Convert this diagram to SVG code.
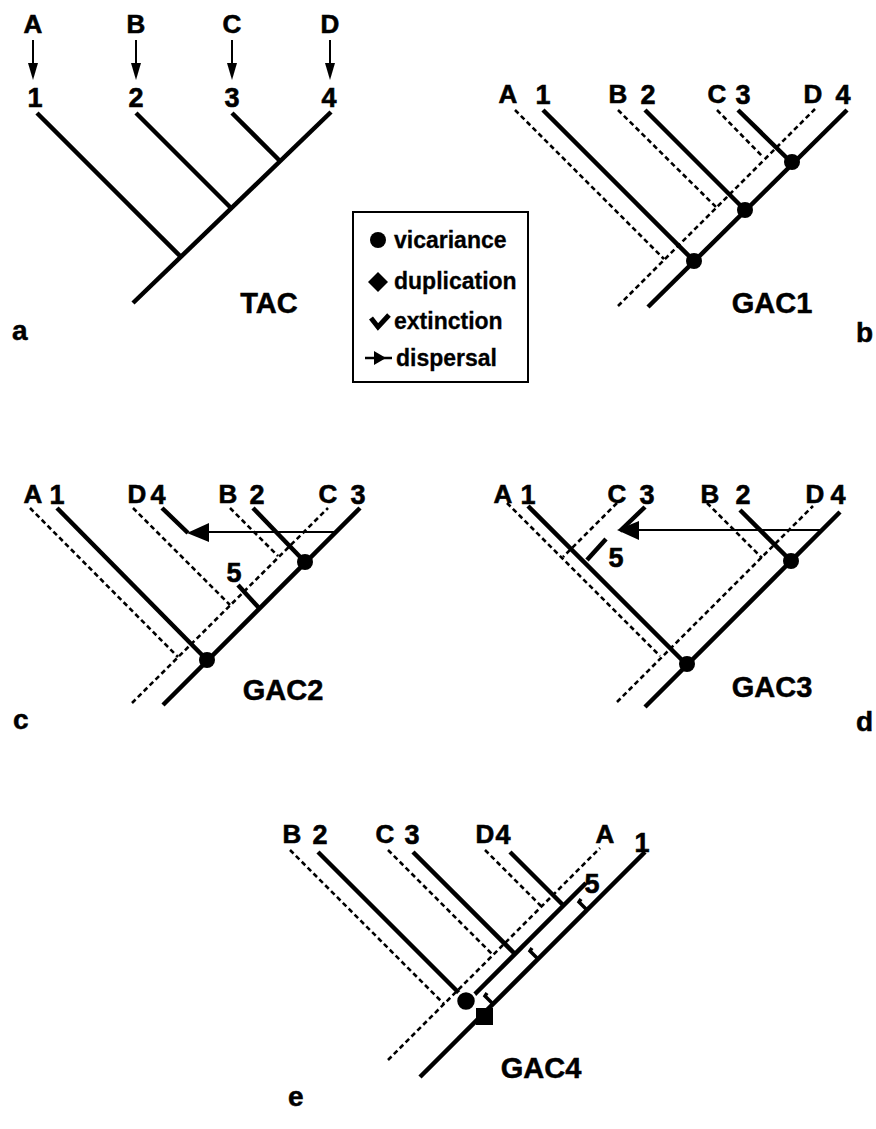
<svg xmlns="http://www.w3.org/2000/svg" width="876" height="1129" viewBox="0 0 876 1129">
<defs>
<style>
.s{stroke:#000;stroke-width:4.5;fill:none;stroke-linecap:butt}
.d{stroke:#000;stroke-width:2.6;fill:none;stroke-dasharray:5 3.3}
.t{stroke:#000;stroke-width:2;fill:none}
.l{font-family:"Liberation Sans",Arial,sans-serif;font-weight:bold;font-size:26px;fill:#000;stroke:#000;stroke-width:0.6;text-anchor:middle}
.n{font-family:"Liberation Sans",Arial,sans-serif;font-weight:bold;font-size:27px;fill:#000;stroke:#000;stroke-width:0.6;text-anchor:middle}
.g{font-family:"Liberation Sans",Arial,sans-serif;font-weight:bold;font-size:29px;fill:#000;stroke:#000;stroke-width:0.5;text-anchor:middle}
.p{font-family:"Liberation Sans",Arial,sans-serif;font-weight:bold;font-size:28px;fill:#000;stroke:#000;stroke-width:0.5}
.k{font-family:"Liberation Sans",Arial,sans-serif;font-weight:bold;font-size:23px;fill:#000;stroke:#000;stroke-width:0.3}
.v{fill:#000}
</style>
</defs>
<rect width="876" height="1129" fill="#fff"/>

<!-- Panel a -->
<g id="panel-a">
<text class="l" x="33" y="33">A</text>
<text class="l" x="136" y="33">B</text>
<text class="l" x="232" y="33">C</text>
<text class="l" x="330" y="33">D</text>
<g id="a-arrows">
<line class="t" x1="33" y1="40" x2="33" y2="66"/><polygon class="v" points="28,63 38,63 33,80"/>
<line class="t" x1="136" y1="40" x2="136" y2="66"/><polygon class="v" points="131,63 141,63 136,80"/>
<line class="t" x1="232" y1="40" x2="232" y2="66"/><polygon class="v" points="227,63 237,63 232,80"/>
<line class="t" x1="330" y1="40" x2="330" y2="66"/><polygon class="v" points="325,63 335,63 330,80"/>
</g>
<text class="n" x="35" y="107">1</text>
<text class="n" x="136" y="107">2</text>
<text class="n" x="232" y="107">3</text>
<text class="n" x="329" y="107">4</text>
<line class="s" x1="133" y1="303" x2="331" y2="112"/>
<line class="s" x1="37" y1="113" x2="182" y2="258"/>
<line class="s" x1="136" y1="113" x2="232" y2="209"/>
<line class="s" x1="232" y1="113" x2="280" y2="161"/>
<text class="g" x="269" y="313">TAC</text>
<text class="p" x="12" y="340">a</text>
</g>

<!-- Legend -->
<g id="legend">
<rect x="353" y="212" width="175" height="170" fill="none" stroke="#000" stroke-width="2"/>
<circle cx="378" cy="240" r="8"/>
<text class="k" x="394" y="248">vicariance</text>
<polygon class="v" points="378,272 388,282 378,292 368,282"/>
<text class="k" x="394" y="289">duplication</text>
<polyline points="371,318 378,327 389,315" fill="none" stroke="#000" stroke-width="5"/>
<text class="k" x="394" y="329">extinction</text>
<line x1="365" y1="358" x2="392" y2="358" stroke="#000" stroke-width="2.5"/>
<polygon class="v" points="374,351 386,358 374,365"/>
<text class="k" x="396" y="366">dispersal</text>
</g>

<!-- Panel b -->
<g id="panel-b">
<text class="l" x="508" y="103">A</text><text class="n" x="543" y="104">1</text>
<text class="l" x="618" y="103">B</text><text class="n" x="648" y="104">2</text>
<text class="l" x="717" y="103">C</text><text class="n" x="743" y="104">3</text>
<text class="l" x="813" y="103">D</text><text class="n" x="843" y="104">4</text>
<line class="d" x1="618" y1="306" x2="815" y2="109"/>
<line class="d" x1="515" y1="110" x2="664" y2="259"/>
<line class="d" x1="618" y1="110" x2="717" y2="208"/>
<line class="d" x1="717" y1="110" x2="763" y2="157"/>
<line class="s" x1="648" y1="307" x2="847" y2="110"/>
<line class="s" x1="543" y1="110" x2="694" y2="261"/>
<line class="s" x1="645" y1="110" x2="745" y2="210"/>
<line class="s" x1="738" y1="110" x2="792" y2="163"/>
<circle cx="694" cy="261" r="8"/>
<circle cx="745" cy="210" r="8"/>
<circle cx="792" cy="162" r="8"/>
<text class="g" x="772" y="313">GAC1</text>
<text class="p" x="856" y="342">b</text>
</g>

<!-- Panel c -->
<g id="panel-c">
<text class="l" x="33" y="503">A</text><text class="n" x="57" y="504">1</text>
<text class="l" x="137" y="503">D</text><text class="n" x="158" y="504">4</text>
<text class="l" x="228" y="503">B</text><text class="n" x="257" y="504">2</text>
<text class="l" x="328" y="503">C</text><text class="n" x="358" y="504">3</text>
<line class="d" x1="132" y1="703" x2="328" y2="508"/>
<line class="d" x1="30" y1="508" x2="178" y2="657"/>
<line class="d" x1="133" y1="508" x2="230" y2="605"/>
<line class="d" x1="230" y1="508" x2="278" y2="556"/>
<line class="s" x1="163" y1="705" x2="360" y2="508"/>
<line class="s" x1="57" y1="508" x2="207" y2="660"/>
<line class="s" x1="253" y1="508" x2="305" y2="562"/>
<line class="s" x1="238" y1="585" x2="259" y2="608"/>
<line class="s" x1="162" y1="508" x2="188" y2="533"/>
<line x1="336" y1="532" x2="205" y2="532" stroke="#000" stroke-width="2"/>
<polygon class="v" points="187,533 209,523 209,542"/>
<circle cx="207" cy="660" r="8"/>
<circle cx="305" cy="562" r="8"/>
<text class="n" x="234" y="582">5</text>
<text class="g" x="283" y="700">GAC2</text>
<text class="p" x="13" y="729">c</text>
</g>

<!-- Panel d -->
<g id="panel-d">
<text class="l" x="503" y="503">A</text><text class="n" x="528" y="504">1</text>
<text class="l" x="617" y="503">C</text><text class="n" x="647" y="504">3</text>
<text class="l" x="710" y="503">B</text><text class="n" x="743" y="504">2</text>
<text class="l" x="815" y="503">D</text><text class="n" x="838" y="504">4</text>
<line class="d" x1="617" y1="702" x2="813" y2="506"/>
<line class="d" x1="507" y1="503" x2="660" y2="656"/>
<line class="d" x1="617" y1="503" x2="563" y2="557"/>
<line class="d" x1="707" y1="503" x2="762" y2="558"/>
<line class="s" x1="645" y1="707" x2="840" y2="512"/>
<line class="s" x1="528" y1="506" x2="687" y2="665"/>
<line class="s" x1="740" y1="510" x2="791" y2="561"/>
<line class="s" x1="645" y1="507" x2="620" y2="531"/>
<line class="s" x1="606" y1="539" x2="587" y2="560"/>
<line x1="822" y1="530" x2="635" y2="530" stroke="#000" stroke-width="2"/>
<polygon class="v" points="617,530 639,521 639,540"/>
<circle cx="687" cy="664" r="8"/>
<circle cx="791" cy="561" r="8"/>
<text class="n" x="616" y="567">5</text>
<text class="g" x="772" y="697">GAC3</text>
<text class="p" x="856" y="731">d</text>
</g>

<!-- Panel e -->
<g id="panel-e">
<text class="l" x="292" y="843">B</text><text class="n" x="320" y="844">2</text>
<text class="l" x="385" y="843">C</text><text class="n" x="412" y="844">3</text>
<text class="l" x="485" y="843">D</text><text class="n" x="503" y="844">4</text>
<text class="l" x="605" y="843">A</text><text class="n" x="642" y="852">1</text>
<line class="d" x1="388" y1="1060" x2="600" y2="848"/>
<line class="d" x1="290" y1="850" x2="444" y2="1004"/>
<line class="d" x1="388" y1="850" x2="493" y2="955"/>
<line class="d" x1="485" y1="850" x2="541" y2="906"/>
<line class="s" x1="420" y1="1077" x2="645" y2="852"/>
<line class="s" x1="470" y1="999" x2="586" y2="883"/>
<line class="s" x1="318" y1="852" x2="467" y2="1001"/>
<line class="s" x1="413" y1="852" x2="515" y2="954"/>
<line class="s" x1="510" y1="852" x2="564" y2="906"/>
<g id="e-extinctions">
<polyline points="587,910 579,902 581,899" fill="none" stroke="#000" stroke-width="3.5"/>
<polyline points="538,959 530,951 532,948" fill="none" stroke="#000" stroke-width="3.5"/>
<polyline points="493,1004 485,996 487,993" fill="none" stroke="#000" stroke-width="3.5"/>
</g>
<rect x="476" y="1008" width="17" height="17" fill="#000"/>
<circle cx="466" cy="1001" r="10" fill="#000" stroke="#fff" stroke-width="2.5"/>
<text class="n" x="592" y="893">5</text>
<text class="g" x="541" y="1078">GAC4</text>
<text class="p" x="288" y="1106">e</text>
</g>
</svg>
